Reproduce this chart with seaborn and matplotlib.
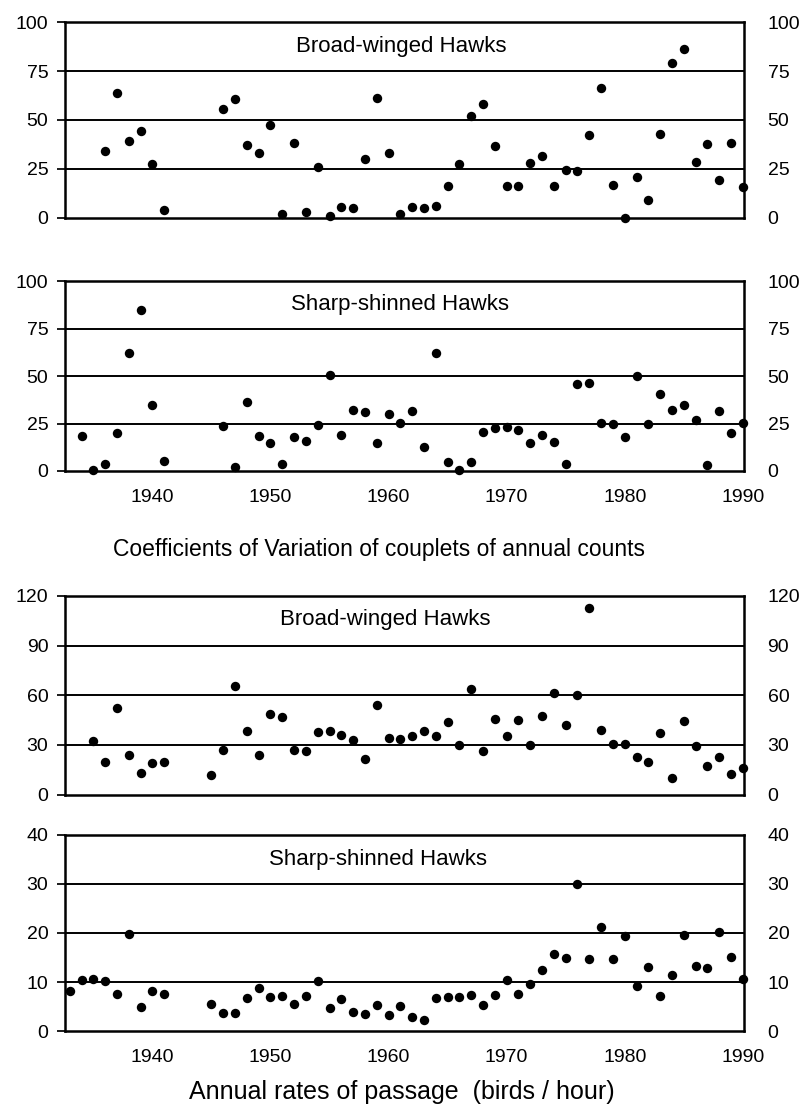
import numpy as np
import pandas as pd
import matplotlib
matplotlib.use("Agg")
import matplotlib.pyplot as plt
import seaborn as sns

# ---------------- data ----------------
# Coefficients of variation of couplets of annual counts
cv_bw_years = list(range(1936, 1942)) + list(range(1946, 1991))
cv_bw_values = [34.2, 63.6, 39.1, 44.5, 27.7, 4.1,
                55.7, 60.6, 37.3, 33.1, 47.4, 2.1, 38.0, 2.9, 26.1, 0.6,
                5.3, 5.0, 29.8, 61.3, 33.3, 2.0, 5.2, 4.9, 5.8, 16.0,
                27.4, 52.0, 58.0, 36.6, 16.1, 16.2, 28.1, 31.7, 16.3, 24.5,
                23.7, 42.4, 66.6, 16.8, 0.0, 21.0, 8.8, 42.8, 79.3, 86.1,
                28.6, 37.6, 19.4, 38.0, 15.7]

cv_ss_years = list(range(1934, 1942)) + list(range(1946, 1991))
cv_ss_values = [18.5, 0.6, 3.6, 20.2, 62.2, 85.1, 35.0, 5.1,
                23.8, 2.1, 36.5, 18.6, 14.9, 3.7, 17.9, 16.0, 24.4, 50.8,
                18.9, 32.0, 31.2, 14.6, 29.8, 25.4, 31.6, 12.4, 62.3, 4.7,
                0.7, 4.8, 20.7, 22.9, 23.0, 21.6, 14.8, 19.0, 15.0, 3.7,
                45.9, 46.5, 25.5, 24.5, 18.1, 50.1, 24.8, 40.8, 32.1, 34.7,
                27.0, 2.9, 31.4, 20.1, 25.4]

# Annual rates of passage (birds / hour)
rate_bw_years = list(range(1935, 1942)) + list(range(1945, 1991))
rate_bw_values = [32.5, 19.7, 52.2, 24.1, 12.9, 19.0, 19.8,
                  11.8, 26.7, 65.7, 38.6, 24.0, 48.6, 46.7, 26.9, 26.2, 38.0,
                  38.3, 35.7, 33.2, 21.4, 53.9, 34.1, 33.4, 35.4, 38.2, 35.1,
                  43.9, 29.7, 63.9, 26.4, 45.6, 35.5, 45.3, 30.1, 47.5, 61.1,
                  42.1, 60.4, 112.7, 39.3, 30.6, 30.7, 22.7, 19.7, 37.4, 10.1,
                  44.3, 29.1, 17.0, 22.6, 12.5, 16.2]

rate_ss_years = list(range(1933, 1942)) + list(range(1945, 1991))
rate_ss_values = [8.1, 10.5, 10.6, 10.3, 7.6, 19.8, 5.0, 8.2, 7.5,
                  5.5, 3.7, 3.7, 6.7, 8.7, 7.0, 7.2, 5.6, 7.2, 10.3,
                  4.7, 6.5, 4.0, 3.5, 5.4, 3.2, 5.1, 2.9, 2.3, 6.8,
                  6.9, 6.9, 7.3, 5.4, 7.4, 10.5, 7.6, 9.6, 12.4, 15.7,
                  14.9, 30.0, 14.7, 21.2, 14.8, 19.3, 9.1, 13.1, 7.2, 11.4,
                  19.6, 13.2, 12.9, 20.1, 15.2, 10.7]

year_ticks = [1940, 1950, 1960, 1970, 1980, 1990]
cv_ticks = [0, 25, 50, 75, 100]
bw_rate_ticks = [0, 30, 60, 90, 120]
ss_rate_ticks = [0, 10, 20, 30, 40]

title_cv = "Coefficients of Variation of couplets of annual counts"
title_rate = "Annual rates of passage  (birds / hour)"
label_bw = "Broad-winged Hawks"
label_ss = "Sharp-shinned Hawks"

# ---------------- style ----------------
sns.set_theme(style="white")
plt.rcParams["font.family"] = ["Liberation Sans", "DejaVu Sans"]

fig = plt.figure(figsize=(8.06, 11.16), dpi=100)
fig.patch.set_facecolor("white")

LEFT = 65 / 806
WIDTH = (744 - 65) / 806
XLIM = (1932.6, 1990.1)


def panel(rect, years, values, ticks, label, label_xy, show_x):
    ax = fig.add_axes(rect)
    df = pd.DataFrame({"year": years, "value": values})
    sns.scatterplot(data=df, x="year", y="value", ax=ax, color="black",
                    s=46, linewidth=0, clip_on=False, zorder=4, legend=False)
    ax.set_xlim(*XLIM)
    ax.set_ylim(ticks[0], ticks[-1])
    for t in ticks[1:-1]:
        ax.axhline(t, color="black", lw=1.4, zorder=2)
    ax.set_yticks(ticks)
    ax.set_yticklabels([str(t) for t in ticks])
    ax.tick_params(axis="y", left=False, right=False, labelleft=True,
                   labelsize=14, pad=6, colors="black")
    ax.set_xticks(year_ticks)
    if show_x:
        ax.set_xticklabels([str(y) for y in year_ticks])
        ax.tick_params(axis="x", bottom=False, labelsize=14, pad=7,
                       colors="black")
    else:
        ax.set_xticklabels([])
        ax.tick_params(axis="x", bottom=False)
    ax.set_xlabel("")
    ax.set_ylabel("")
    for sp in ax.spines.values():
        sp.set_visible(True)
        sp.set_color("black")
        sp.set_linewidth(1.8)
    # right-hand duplicate labels
    ax2 = ax.twinx()
    ax2.set_ylim(ticks[0], ticks[-1])
    ax2.set_yticks(ticks)
    ax2.set_yticklabels([str(t) for t in ticks])
    ax2.tick_params(axis="y", right=False, labelsize=14, pad=11,
                    colors="black")
    for sp in ax2.spines.values():
        sp.set_visible(False)
    ax.text(label_xy[0], label_xy[1], label, ha="center", va="center",
            fontsize=16, color="black", zorder=5)
    return ax


panel([LEFT, 0.805, WIDTH, 0.175], cv_bw_years, cv_bw_values, cv_ticks,
      label_bw, (1961.1, 87.5), False)
panel([LEFT, 0.578, WIDTH, 0.170], cv_ss_years, cv_ss_values, cv_ticks,
      label_ss, (1961.0, 87.5), True)
panel([LEFT, 0.288, WIDTH, 0.178], rate_bw_years, rate_bw_values,
      bw_rate_ticks, label_bw, (1959.7, 105.5), False)
panel([LEFT, 0.076, WIDTH, 0.176], rate_ss_years, rate_ss_values,
      ss_rate_ticks, label_ss, (1959.1, 35.0), True)

fig.text(0.470, 0.508, title_cv, ha="center", va="center", fontsize=16.5,
         color="black")
fig.text(0.498, 0.0215, title_rate, ha="center", va="center", fontsize=18,
         color="black")

fig.savefig("out.png", dpi=100, facecolor="white")
